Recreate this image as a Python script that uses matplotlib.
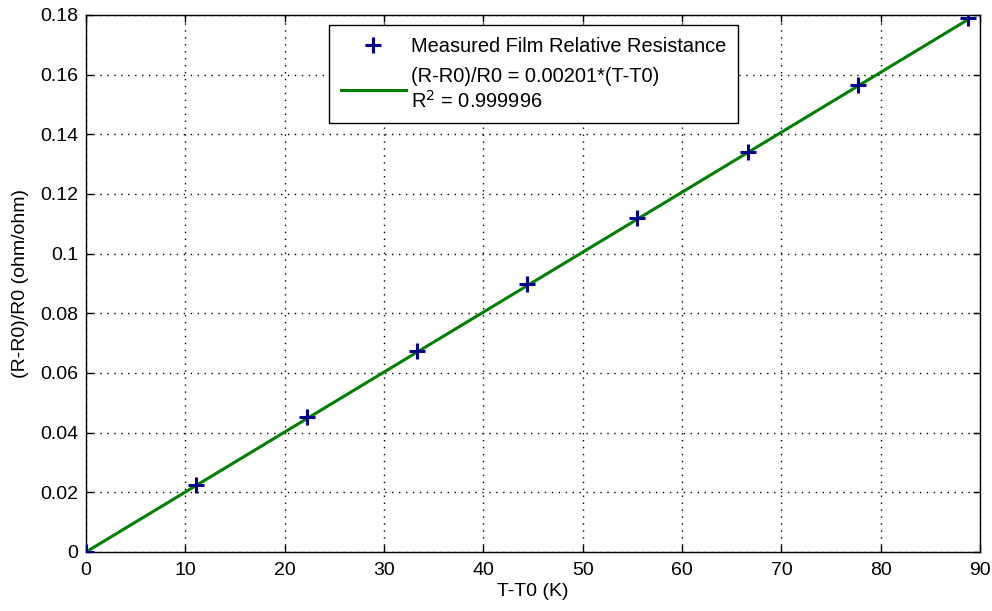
import matplotlib
matplotlib.use("Agg")
import matplotlib.pyplot as plt
import numpy as np

# Data
temp_diff = [0, 11.1, 22.2, 33.3, 44.4, 55.5, 66.6, 77.7, 88.8]
rel_res = [0, 0.0226, 0.0452, 0.0673, 0.0897, 0.1118, 0.1342, 0.1565, 0.1789]
slope = 0.00201
x_ticks = [0, 10, 20, 30, 40, 50, 60, 70, 80, 90]
y_ticks = [0, 0.02, 0.04, 0.06, 0.08, 0.1, 0.12, 0.14, 0.16, 0.18]
y_tick_labels = ["0", "0.02", "0.04", "0.06", "0.08", "0.1", "0.12", "0.14", "0.16", "0.18"]

plt.rcParams['font.family'] = ['Liberation Sans', 'DejaVu Sans']

fig = plt.figure(figsize=(9.92, 6.11), dpi=100)
ax = fig.add_axes([0.0867, 0.0966, 0.9013, 0.8789])

fit_x = np.array([temp_diff[0], temp_diff[-1]])
ax.plot(temp_diff, rel_res, linestyle='none', marker='+', color='#00008B',
        markersize=11, markeredgewidth=2.2, zorder=4,
        label='Measured Film Relative Resistance')
ax.plot(fit_x, slope * fit_x, color='#008000', linewidth=2.2, zorder=3,
        label='(R-R0)/R0 = 0.00201*(T-T0)\nR$^2$ = 0.999996')

ax.set_xlim(0, 90)
ax.set_ylim(0, 0.18)
ax.set_xticks(x_ticks)
ax.set_yticks(y_ticks)
ax.set_yticklabels(y_tick_labels)
ax.tick_params(direction='in', top=True, right=True, length=5, labelsize=14,
               width=1, colors='black')
ax.tick_params(axis='x', pad=7)
ax.tick_params(axis='y', pad=5.5)
ax.grid(True, linestyle=(0, (1, 4)), color='black', linewidth=1)
for s in ax.spines.values():
    s.set_linewidth(1)

ax.set_xlabel('T-T0 (K)', fontsize=14, labelpad=3)
ax.set_ylabel('(R-R0)/R0 (ohm/ohm)', fontsize=14, labelpad=8)

leg = ax.legend(loc='upper left', bbox_to_anchor=(0.2713, 0.9814), fontsize=14.4,
                fancybox=False, framealpha=1, edgecolor='black',
                handlelength=3.25, borderpad=0.6, labelspacing=0.55,
                handletextpad=0.25, borderaxespad=0)
leg.get_frame().set_linewidth(1)

fig.savefig('out.png', dpi=100)
